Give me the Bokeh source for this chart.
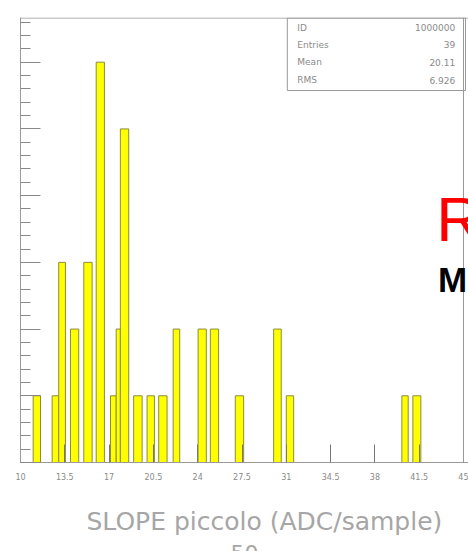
from bokeh.plotting import figure
from bokeh.models import (Label, FixedTicker, SingleIntervalTicker, Range1d, ColumnDataSource,
                          LinearAxis, Title, Span)
from bokeh.core.properties import value
from bokeh.embed import file_html
from bokeh.resources import INLINE

# ---- data ----
bin_lo = [11.00, 12.50, 13.02, 13.95, 15.00, 15.98, 17.11, 17.56, 17.89, 18.94,
          20.00, 20.92, 22.06, 24.03, 25.00, 26.97, 30.00, 31.00, 40.13, 41.00]
bin_hi = [11.58, 13.02, 13.55, 14.60, 15.66, 16.63, 17.56, 17.89, 18.55, 19.61,
          20.58, 21.58, 22.58, 24.68, 25.65, 27.63, 30.60, 31.58, 40.63, 41.63]
counts = [1, 1, 3, 2, 3, 6, 1, 2, 5, 1,
          1, 1, 2, 2, 2, 1, 2, 1, 1, 1]

x_ticks = [10, 13.5, 17, 20.5, 24, 27.5, 31, 34.5, 38, 41.5, 45]
x_tick_labels = ["10", "13.5", "17", "20.5", "24", "27.5", "31", "34.5", "38", "41.5", "45"]

stats_names = ["ID", "Entries", "Mean", "RMS"]
stats_values = ["1000000", "39", "20.11", "6.926"]

x_title = "SLOPE piccolo (ADC/sample)"
sub_title = "50"

GRAY = "#8a8a8a"
X_MIN, X_AXIS_END, X_VIEW_END = 10, 45, 45.395
Y_MAX = 6.67

p = figure(frame_width=448, frame_height=445, output_backend="svg", toolbar_location=None,
           x_range=Range1d(X_MIN, X_VIEW_END), y_range=Range1d(0, Y_MAX),
           x_axis_location=None, y_axis_location=None,
           min_border_left=20, min_border_right=0, min_border_top=17, min_border_bottom=0)
p.background_fill_color = "white"
p.border_fill_color = "white"
p.outline_line_color = None
p.grid.visible = False

xa = LinearAxis(ticker=FixedTicker(ticks=x_ticks, minor_ticks=[]))
xa.major_label_overrides = {t: l for t, l in zip(x_ticks, x_tick_labels)}
xa.major_tick_in = 18
xa.major_tick_out = 0
xa.minor_tick_line_color = None
xa.axis_line_color = "#9a9a9a"
xa.major_tick_line_color = "#777777"
xa.major_label_standoff = 10
xa.major_label_text_font = "DejaVu Sans"
xa.major_label_text_font_size = "8px"
xa.major_label_text_color = GRAY
p.add_layout(xa, "below")

ya = LinearAxis(ticker=SingleIntervalTicker(interval=1, num_minor_ticks=5))
ya.major_tick_in = 20
ya.major_tick_out = 0
ya.minor_tick_in = 10
ya.minor_tick_out = 0
ya.axis_line_color = "#9a9a9a"
ya.major_tick_line_color = "#888888"
ya.minor_tick_line_color = "#888888"
ya.major_label_text_font_size = "0px"
ya.major_label_text_alpha = 0
p.add_layout(ya, "left")

# frame edges (top and right) of the histogram box
p.add_layout(Span(location=X_AXIS_END, dimension="height", line_color="#9a9a9a", line_width=1))
p.add_layout(Span(location=Y_MAX - 0.008, dimension="width", line_color="#9a9a9a", line_width=1))

src = ColumnDataSource(dict(left=bin_lo, right=bin_hi, top=counts, bottom=[0] * len(counts)))
p.quad(left="left", right="right", top="top", bottom="bottom", source=src,
       fill_color="#ffff00", line_color="#8c8c3c", line_width=1)

# stats box
p.quad(left=[31.08], right=[45.16], top=[Y_MAX - 0.008], bottom=[5.576],
       fill_color="white", line_color="#9a9a9a", line_width=1)
sy = [6.52, 6.26, 6.00, 5.73]
p.text(x=[31.87] * 4, y=sy, text=stats_names, text_font=value("DejaVu Sans"),
       text_font_size="9px", text_color=GRAY, text_baseline="alphabetic")
p.text(x=[44.34] * 4, y=sy, text=stats_values, text_font=value("DejaVu Sans"),
       text_font_size="9px", text_color=GRAY, text_baseline="alphabetic", text_align="right")

p.add_layout(Label(x=42.84, y=3.65, text="R", text_align="left",
                   text_baseline="alphabetic", text_font="Liberation Sans",
                   text_font_size="63px", text_color="#ff0000"))
p.add_layout(Label(x=42.99, y=2.745, text="M", text_align="left",
                   text_baseline="alphabetic", text_font="Liberation Sans",
                   text_font_style="bold", text_font_size="35px", text_color="#000000"))

# small spacer between the tick labels and the axis title
spacer = Title(text=" ", align="left", standoff=12, text_font_size="1px",
               text_font_style="normal")
p.add_layout(spacer, "below")
t1 = Title(text=x_title, align="left", offset=66, standoff=14,
           text_font="DejaVu Sans", text_font_style="normal",
           text_font_size="25px", text_color="#a6a6a6")
p.add_layout(t1, "below")
t2 = Title(text=sub_title, align="center", offset=0, standoff=0,
           text_font="DejaVu Sans", text_font_style="normal",
           text_font_size="22px", text_color="#a6a6a6")
p.add_layout(t2, "below")

open("out.html", "w").write(file_html(p, INLINE))
